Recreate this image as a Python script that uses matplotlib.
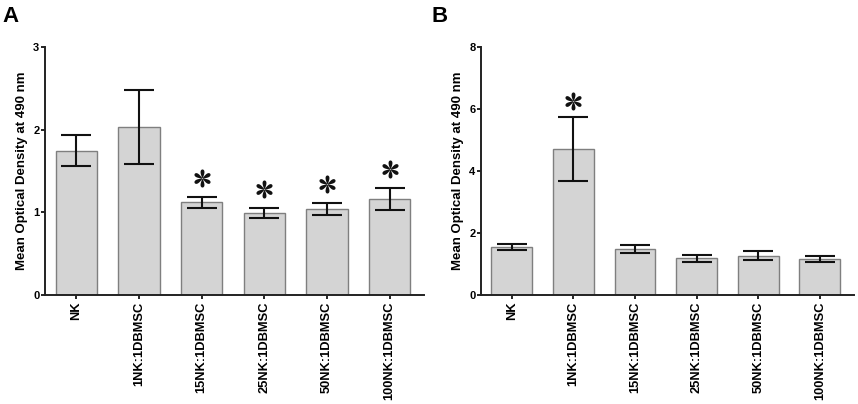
import numpy as np
import matplotlib
matplotlib.use("Agg")
import matplotlib.pyplot as plt
from matplotlib.path import Path

plt.rcParams['font.family'] = ['Liberation Sans', 'DejaVu Sans']
plt.rcParams['font.weight'] = 'bold'

groups = ['NK', '1NK:1DBMSC', '15NK:1DBMSC', '25NK:1DBMSC', '50NK:1DBMSC', '100NK:1DBMSC']

# panel A
mean_a = [1.745, 2.03, 1.12, 0.99, 1.035, 1.157]
err_a = [0.185, 0.45, 0.07, 0.065, 0.072, 0.135]
star_a = [False, False, True, True, True, True]

# panel B
mean_b = [1.55, 4.71, 1.47, 1.18, 1.26, 1.16]
err_b = [0.10, 1.03, 0.13, 0.12, 0.145, 0.085]
star_b = [False, True, False, False, False, False]


def petal_star():
    # six teardrop petals, like the significance mark in the figure
    verts, codes = [], []
    t = np.linspace(0, 2 * np.pi, 48)
    for k in range(6):
        a = np.pi / 2 + k * np.pi / 3
        px = 0.52 + 0.48 * np.cos(t)
        py = 0.30 * np.sin(t) * (0.25 + 0.75 * px)
        rx = px * np.cos(a) - py * np.sin(a)
        ry = px * np.sin(a) + py * np.cos(a)
        pts = list(zip(rx, ry))
        verts += pts + [pts[0]]
        codes += [Path.MOVETO] + [Path.LINETO] * (len(pts) - 1) + [Path.CLOSEPOLY]
    return Path(verts, codes)


STAR = petal_star()


def draw_panel(ax, means, errs, stars, ymax, yticks, star_pad):
    x = np.arange(len(groups))
    ax.bar(x, means, width=0.66, color='#d4d4d4', edgecolor='#7f7f7f', linewidth=1.0, zorder=2)
    ax.errorbar(x, means, yerr=errs, fmt='none', ecolor='#111111', elinewidth=1.5,
                capsize=11, capthick=1.5, zorder=3)
    sx = [xi for xi, s in zip(x, stars) if s]
    sy = [m + e + star_pad for m, e, s in zip(means, errs, stars) if s]
    ax.plot(sx, sy, linestyle='none', marker=STAR, markersize=13,
            color='#111111', markeredgewidth=0, zorder=4, clip_on=False)
    ax.set_xlim(-0.5, 5.55)
    ax.set_ylim(0, ymax)
    ax.set_yticks(yticks)
    ax.set_xticks(x)
    ax.set_xticklabels(groups, rotation=90, fontsize=9.3, fontweight='bold')
    ax.tick_params(axis='y', labelsize=8, length=3, width=1.2, pad=1)
    ax.tick_params(axis='x', length=3, width=1.2, pad=2)
    for side in ['top', 'right']:
        ax.spines[side].set_visible(False)
    for side in ['left', 'bottom']:
        ax.spines[side].set_linewidth(1.4)
        ax.spines[side].set_color('#222222')
    ax.set_ylabel('Mean Optical Density at 490 nm', fontsize=9.5, fontweight='bold', labelpad=4)
    return ax


fig = plt.figure(figsize=(8.58, 4.04), dpi=100)
ax1 = fig.add_axes([0.0524, 0.270, 0.442, 0.614])
ax2 = fig.add_axes([0.5606, 0.270, 0.4344, 0.614])

draw_panel(ax1, mean_a, err_a, star_a, 3, [0, 1, 2, 3], 0.23)
draw_panel(ax2, mean_b, err_b, star_b, 8, [0, 2, 4, 6, 8], 0.5)

fig.text(0.003, 0.985, 'A', fontsize=16, fontweight='bold', va='top', ha='left')
fig.text(0.503, 0.985, 'B', fontsize=16, fontweight='bold', va='top', ha='left')

fig.savefig('out.png', dpi=100)
